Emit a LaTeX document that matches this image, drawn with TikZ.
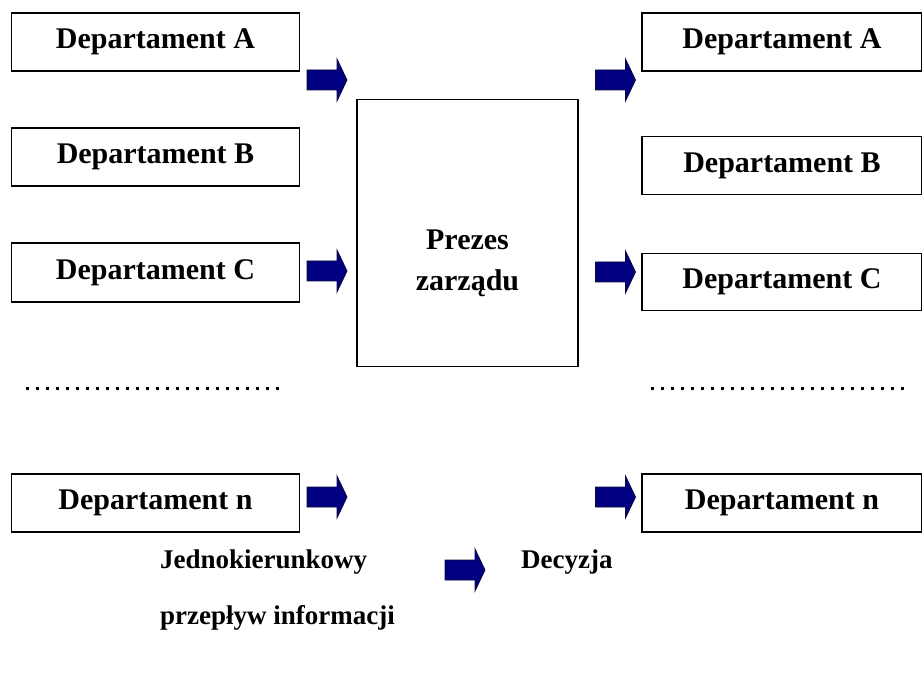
\documentclass[tikz,border=0pt]{standalone}
\usepackage{fontspec}
\setmainfont{Liberation Serif}
\definecolor{navyfill}{RGB}{0,0,128}
\definecolor{navyline}{RGB}{10,10,60}
\begin{document}
\begin{tikzpicture}[x=1pt,y=-1pt,
  deptbox/.style={draw=black,line width=1.4pt,fill=white,inner sep=0pt,font=\fontsize{30}{32}\selectfont\bfseries},
  bossbox/.style={draw=black,line width=1.6pt,fill=white},
  bosstext/.style={font=\fontsize{30}{41}\selectfont\bfseries,align=center,inner sep=0pt},
  legtext/.style={font=\fontsize{27}{30}\selectfont\bfseries,inner sep=0pt,anchor=west},
  dotline/.style={line width=3pt,dash pattern=on 3pt off 7pt},
  barrow/.pic={\draw[fill=navyfill,draw=navyline,line width=0.8pt]
      (-20,-10) -- (10,-10) -- (10,-21) -- (20,0) -- (10,21) -- (10,10) -- (-20,10) -- cycle;}
]
\useasboundingbox (0,0) rectangle (922,679);
% left column
\node[deptbox,minimum width=288pt,minimum height=58pt] (lA) at (155.5,42) {Departament A};
\node[deptbox,minimum width=288pt,minimum height=58pt] (lB) at (155.5,157) {Departament B};
\node[deptbox,minimum width=288pt,minimum height=59pt] (lC) at (155.5,272.5) {Departament C};
\node[deptbox,minimum width=288pt,minimum height=58pt] (ln) at (155.5,503) {Departament n};
% right column
\node[deptbox,minimum width=280pt,minimum height=58pt] (rA) at (782,42) {Departament A};
\node[deptbox,minimum width=280pt,minimum height=58pt] (rB) at (782,165.5) {Departament B};
\node[deptbox,minimum width=280pt,minimum height=57pt] (rC) at (782,282) {Departament C};
\node[deptbox,minimum width=280pt,minimum height=58pt] (rn) at (782,503) {Departament n};
% centre
\node[bossbox,minimum width=221pt,minimum height=267pt] (boss) at (467.5,233) {};
\node[bosstext] (bosst) at (467.5,263) {Prezes\\zarządu};
% dotted lines
\coordinate (dl1) at (26,388);
\coordinate (dl2) at (284,388);
\coordinate (dr1) at (651,388);
\coordinate (dr2) at (909,388);
\draw[dotline] (dl1) -- (dl2);
\draw[dotline] (dr1) -- (dr2);
% arrows
\pic (aLA) at (327,80) {barrow};
\pic (aLC) at (327,271) {barrow};
\pic (aLn) at (327,497) {barrow};
\pic (aRA) at (615.5,80) {barrow};
\pic (aRC) at (615.5,272) {barrow};
\pic (aRn) at (615.5,497) {barrow};
% legend
\node[legtext] (leg1) at (160,562) {Jednokierunkowy};
\node[legtext] (leg2) at (160,618) {przepływ informacji};
\pic (aLeg) at (465,570) {barrow};
\node[legtext] (leg3) at (521,562) {Decyzja};
\end{tikzpicture}
\end{document}
